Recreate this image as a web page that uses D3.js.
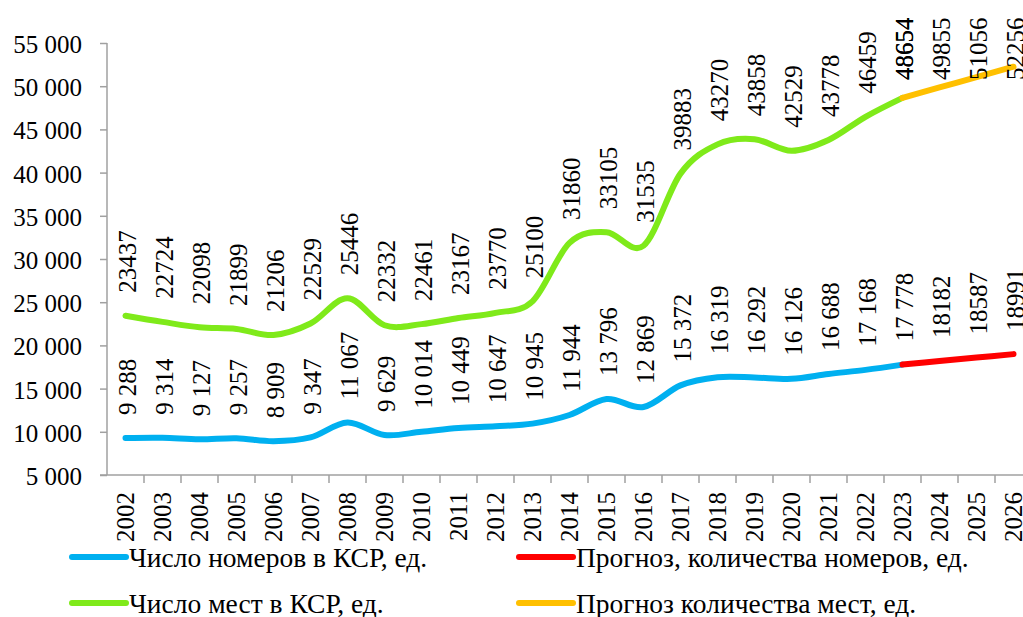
<!DOCTYPE html>
<html>
<head>
<meta charset="utf-8">
<script src="https://cdn.jsdelivr.net/npm/d3@7"></script>
<style>
  body { margin: 0; background: #fff; }
  svg { display: block; }
</style>
</head>
<body>
<div id="chart"></div>
<script>
// years on the category axis
const years = ['2002', '2003', '2004', '2005', '2006', '2007', '2008', '2009', '2010', '2011', '2012',
    '2013', '2014', '2015', '2016', '2017', '2018', '2019', '2020', '2021', '2022', '2023',
    '2024', '2025', '2026'];

// history 2002-2023
const historyYears = years.slice(0, 22);
const rooms = [9288, 9314, 9127, 9257, 8909, 9347, 11067, 9629, 10014, 10449, 10647,
    10945, 11944, 13796, 12869, 15372, 16319, 16292, 16126, 16688, 17168, 17778];
const places = [23437, 22724, 22098, 21899, 21206, 22529, 25446, 22332, 22461, 23167, 23770,
    25100, 31860, 33105, 31535, 39883, 43270, 43858, 42529, 43778, 46459, 48654];

// forecast 2023-2026
const forecastYears = ['2023', '2024', '2025', '2026'];
const roomsForecast = [17778, 18182, 18587, 18991];
const placesForecast = [48654, 49855, 51056, 52256];

const yTicks = [5000, 10000, 15000, 20000, 25000, 30000, 35000, 40000, 45000, 50000, 55000];

const legendNames = ['Число номеров в КСР, ед.', 'Прогноз, количества номеров, ед.',
    'Число мест в КСР, ед.', 'Прогноз количества мест, ед.'];
const title = 'Число мест в КСР, количество мест и коек в КСР [13]';

const width = 1023, height = 617;
const FONT = '"Liberation Serif", "Times New Roman", Times, "DejaVu Serif", serif';
const spaced = d3.formatLocale({ decimal: ',', thousands: '\u00a0', grouping: [3], currency: ['', ''] }).format(',d');
const plain = d3.format('d');

const svg = d3.select('#chart').append('svg')
    .attr('width', width)
    .attr('height', height)
    .attr('font-family', FONT);

const x = d3.scaleBand().domain(years).range([107, 1032]);
const y = d3.scaleLinear().domain([5000, 55000]).range([475, 43]);
const cx = (d) => x(d) + x.bandwidth() / 2;

// title, mostly cut off above the picture
svg.append('text')
    .attr('x', 652).attr('y', -4)
    .attr('text-anchor', 'end')
    .style('font-family', FONT)
    .style('font-size', '25px')
    .text(title);

// y axis
const yAxis = svg.append('g')
    .attr('transform', 'translate(107,0)')
    .call(d3.axisLeft(y).tickValues(yTicks).tickSize(7).tickPadding(18).tickFormat(spaced))
    .attr('font-family', FONT);
yAxis.selectAll('path, line').attr('stroke', '#a0a0a0').attr('stroke-width', 1.5);
yAxis.select('.domain').attr('d', 'M0,' + y(55000) + 'V' + y(5000));
yAxis.selectAll('text')
    .style('font-family', FONT)
    .style('font-size', '25px')
    .attr('fill', '#000')
    .attr('dy', '0.38em');

// x axis: line + ticks between categories
svg.append('line')
    .attr('x1', 100).attr('x2', 1032)
    .attr('y1', y(5000)).attr('y2', y(5000))
    .attr('stroke', '#a0a0a0').attr('stroke-width', 1.5);
svg.append('g').selectAll('line')
    .data(years.slice(1))
    .join('line')
    .attr('x1', (d) => x(d)).attr('x2', (d) => x(d))
    .attr('y1', y(5000)).attr('y2', y(5000) + 8)
    .attr('stroke', '#a0a0a0').attr('stroke-width', 1.5);
svg.append('g').selectAll('text')
    .data(years)
    .join('text')
    .attr('transform', (d) => 'translate(' + cx(d) + ',492) rotate(-90)')
    .attr('text-anchor', 'end')
    .attr('dy', '0.35em')
    .style('font-family', FONT)
    .style('font-size', '25px')
    .text((d) => d);

const line = d3.line()
    .x((d) => cx(d.year))
    .y((d) => y(d.value))
    .curve(d3.curveCatmullRom.alpha(0));

const series = [
    { years: historyYears, values: rooms, color: '#00b0f0', fmt: spaced, skipFirst: false },
    { years: historyYears, values: places, color: '#7fea1a', fmt: plain, skipFirst: false },
    { years: forecastYears, values: roomsForecast, color: '#ff0000', fmt: plain, skipFirst: true },
    { years: forecastYears, values: placesForecast, color: '#ffc000', fmt: plain, skipFirst: false }
];

series.forEach((s) => {
    const pts = s.values.map((v, i) => ({ year: s.years[i], value: v }));
    svg.append('path')
        .datum(pts)
        .attr('d', line)
        .attr('fill', 'none')
        .attr('stroke', s.color)
        .attr('stroke-width', 6)
        .attr('stroke-linecap', 'round')
        .attr('stroke-linejoin', 'round');

    // labels sit above the point, but are pushed down to stay inside the plot
    svg.append('g').selectAll('text')
        .data(s.skipFirst ? pts.slice(1) : pts)
        .join('text')
        .attr('transform', (d) => 'translate(' + (cx(d.year) + 2) + ',' + Math.max(y(d.value) - 23, 80) + ') rotate(-90)')
        .attr('text-anchor', 'start')
        .attr('dy', '0.35em')
        .style('font-family', FONT)
        .style('font-size', '25px')
        .text((d) => s.fmt(d.value));
});

// legend
const legendPos = [[72, 557], [519, 557], [72, 603], [519, 603]];
const legendColors = ['#00b0f0', '#ff0000', '#7fea1a', '#ffc000'];
const legend = svg.append('g').selectAll('g')
    .data(legendNames)
    .join('g')
    .attr('transform', (d, i) => 'translate(' + legendPos[i][0] + ',' + legendPos[i][1] + ')');
legend.append('line')
    .attr('x1', 0).attr('x2', 54)
    .attr('stroke', (d, i) => legendColors[i])
    .attr('stroke-width', 6)
    .attr('stroke-linecap', 'round');
legend.append('text')
    .attr('x', 57)
    .attr('dy', '0.36em')
    .style('font-family', FONT)
    .style('font-size', '27.5px')
    .text((d) => d);
</script>
</body>
</html>
